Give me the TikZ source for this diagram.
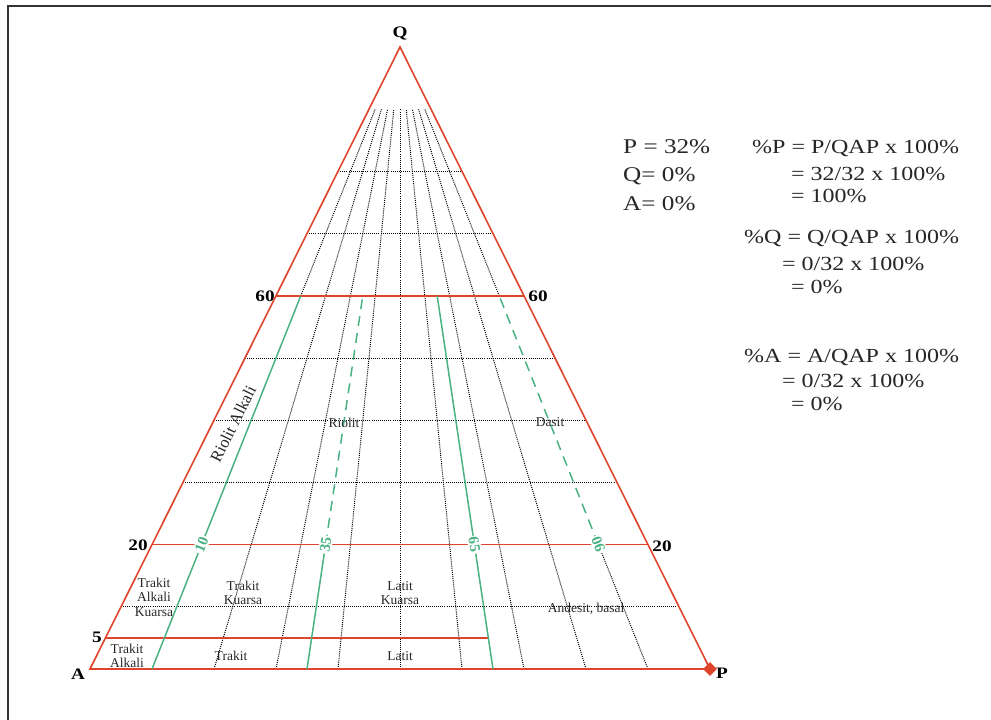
\documentclass[tikz,border=0pt]{standalone}
\usepackage{fontspec}
\setmainfont{Liberation Serif}
\newfontfamily\widefont{Liberation Serif}[FakeStretch=1.2]
\usetikzlibrary{calc,shapes.geometric}
\definecolor{qapred}{RGB}{222,68,44}
\definecolor{qapgreen}{RGB}{74,178,130}

\begin{document}
\begin{tikzpicture}[x=1pt, y=-1pt,
  redline/.style={draw=qapred, line width=1.6pt},
  gridline/.style={line width=1pt, dash pattern=on 1pt off 1.1pt},
  greenline/.style={draw=qapgreen, line width=1.5pt},
  greendash/.style={greenline, dash pattern=on 10pt off 7pt},
  cornerlabel/.style={font=\widefont\fontsize{16}{16}\selectfont\bfseries, inner sep=1pt},
  ratiolabel/.style={font=\fontsize{15}{15}\selectfont\bfseries, text=qapgreen, fill=white, inner sep=1.5pt},
  fieldlabel/.style={font=\fontsize{13.5}{14.5}\selectfont, text=black!85, align=center, inner sep=0pt},
  calcline/.style={font=\widefont\fontsize{20}{20}\selectfont, anchor=base west, inner sep=0pt, text=black!85}
]
\useasboundingbox (0,0) rectangle (991,720);
\draw[line width=2pt, black!80] (8,720) -- (8,6) -- (991,6);

\coordinate (A) at (90,669);
\coordinate (P) at (710,669);
\coordinate (Q) at (400,47);
\foreach \r in {10,20,...,90} \coordinate (b\r) at ($(A)!0.\r!(P)$);
\foreach \r in {35,65} \coordinate (b\r) at ($(A)!0.\r!(P)$);

% dotted grid
\foreach \f in {0.1,0.3,0.4,0.5,0.7,0.8}
  \draw[gridline] ($(A)!\f!(Q)$) -- ($(P)!\f!(Q)$);
\foreach \r in {20,30,...,80}
  \draw[gridline] (b\r) -- ($(b\r)!0.9!(Q)$);
\draw[gridline] ($(b10)!0.6!(Q)$) -- ($(b10)!0.9!(Q)$);
\draw[gridline] ($(b90)!0.6!(Q)$) -- ($(b90)!0.9!(Q)$);
\draw[gridline] (b90) -- ($(b90)!0.2!(Q)$);

% field boundaries
\draw[redline] (A) -- (P) -- (Q) -- cycle;
\draw[redline] ($(A)!0.6!(Q)$) -- ($(P)!0.6!(Q)$);
\draw[redline] ($(A)!0.2!(Q)$) -- ($(P)!0.2!(Q)$);
\draw[redline] ($(A)!0.05!(Q)$) -- ($(b65)!0.05!(Q)$);

\draw[greenline] (b10) -- ($(b10)!0.6!(Q)$);
\draw[greenline] (b35) -- ($(b35)!0.2!(Q)$);
\draw[greendash] ($(b35)!0.2!(Q)$) -- ($(b35)!0.6!(Q)$);
\draw[greenline] (b65) -- ($(b65)!0.6!(Q)$);
\draw[greendash] ($(b90)!0.2!(Q)$) -- ($(b90)!0.6!(Q)$);

\node[ratiolabel, rotate=68.3] (r10) at ($(b10)!0.2!(Q)$) {10};
\node[ratiolabel, rotate=81.5] (r35) at ($(b35)!0.2!(Q)$) {35};
\node[ratiolabel, rotate=-81.5] (r65) at ($(b65)!0.2!(Q)$) {65};
\node[ratiolabel, rotate=111.7] (r90) at ($(b90)!0.2!(Q)$) {90};

\node[diamond, fill=qapred, minimum size=14pt, inner sep=0pt] (pmark) at (P) {};

% corner and scale labels
\node[cornerlabel] (qlabel) at (400,33) {Q};
\node[cornerlabel] (alabel) at (78,674) {A};
\node[cornerlabel] (plabel) at (722,673) {P};
\node[cornerlabel] (l60) at (265,296) {60};
\node[cornerlabel] (r60) at (538,296) {60};
\node[cornerlabel] (l20) at (138,545) {20};
\node[cornerlabel] (rr20) at (662,546) {20};
\node[cornerlabel] (l5) at (97,637) {5};

% rock fields
\node[fieldlabel, font=\fontsize{16.5}{16.5}\selectfont, rotate=63.5] (riolitalk) at (233,424) {Riolit Alkali};
\node[fieldlabel] (riolit) at (344,423) {Riolit};
\node[fieldlabel] (dasit) at (550,422) {Dasit};
\node[fieldlabel] (trakitalkq) at (154,597) {Trakit\\Alkali\\Kuarsa};
\node[fieldlabel] (trakitq) at (243,593) {Trakit\\Kuarsa};
\node[fieldlabel] (latitq) at (400,593) {Latit\\Kuarsa};
\node[fieldlabel] (andesit) at (586,609) {Andesit, basal};
\node[fieldlabel] (trakitalk) at (127,656) {Trakit\\Alkali};
\node[fieldlabel] (trakit) at (231,656) {Trakit};
\node[fieldlabel] (latit) at (400,656) {Latit};

% calculation
\node[calcline, font=\widefont\fontsize{21}{21}\selectfont] (givp) at (623,153) {P = 32\%};
\node[calcline, font=\widefont\fontsize{21}{21}\selectfont] (givq) at (623,181) {Q= 0\%};
\node[calcline, font=\widefont\fontsize{21}{21}\selectfont] (giva) at (623,210) {A= 0\%};

\node[calcline] (pp1) at (752,153) {\%P = P/QAP x 100\%};
\node[calcline] (pp2) at (791,180) {= 32/32 x 100\%};
\node[calcline] (pp3) at (791,202) {= 100\%};
\node[calcline] (pq1) at (744,243) {\%Q = Q/QAP x 100\%};
\node[calcline] (pq2) at (782,270) {= 0/32 x 100\%};
\node[calcline] (pq3) at (791,293) {= 0\%};
\node[calcline] (pa1) at (744,362) {\%A = A/QAP x 100\%};
\node[calcline] (pa2) at (782,387) {= 0/32 x 100\%};
\node[calcline] (pa3) at (791,410) {= 0\%};

\end{tikzpicture}
\end{document}
